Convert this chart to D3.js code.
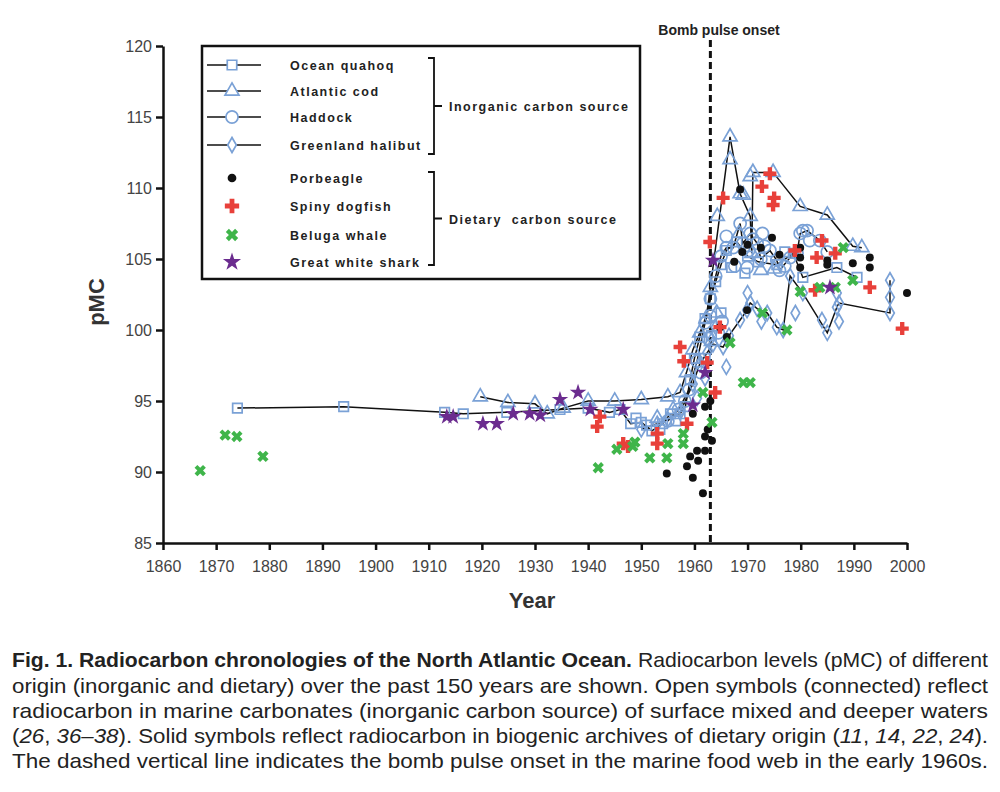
<!DOCTYPE html>
<html>
<head>
<meta charset="utf-8">
<script src="https://cdn.jsdelivr.net/npm/d3@7"></script>
<style>
  body { margin: 0; background: #fff; }
  svg text { font-family: "Liberation Sans", Arial, sans-serif; }
</style>
</head>
<body>
<svg id="chart" width="1000" height="792"></svg>
<script>
// ---- data (year, pMC) ----
const xTicks = [1860, 1870, 1880, 1890, 1900, 1910, 1920, 1930, 1940, 1950, 1960, 1970, 1980, 1990, 2000];
const yTicks = [85, 90, 95, 100, 105, 110, 115, 120];
const bombYear = 1963;

// open symbols, connected (inorganic carbon source)
const quahoqTrack = [[1874,94.5],[1894,94.6],[1913,94.2],[1916.5,94.1],[1924.7,94.2],[1934.7,94.4],[1940,94.5],[1944,94.2],[1946,94.4],[1948,93.4],[1950,93.5],[1952,92.9],[1954,93.4],[1955.5,94.1],[1957.3,94.1],[1958.3,94.6],[1959.2,96.5],[1960,98.0],[1961,99.5],[1962,100.8],[1963,102.2],[1964,103.4],[1965,104.6],[1966,105.6],[1968,106.2],[1970,105.2],[1972,104.8],[1975.5,104.6],[1978.6,105.4],[1980.4,103.7],[1986.8,104.4],[1990.6,103.7]];
const codTrack = [[1919.7,95.3],[1924.9,94.9],[1930,94.8],[1932.3,94.1],[1935.3,94.5],[1940,95.0],[1945,95.0],[1950,95.1],[1955,95.3],[1957.3,95.6],[1958.5,97.0],[1959.7,98.6],[1961,99.8],[1962.2,100.8],[1963,103.0],[1966.7,113.6],[1968.6,109.6],[1970.5,108.0],[1970.8,105.4],[1971,111.1],[1974.8,111.1],[1979.9,108.7],[1985,108.1],[1989.8,105.9],[1991.5,105.8]];
const haddockTrack = [[1955,93.6],[1957,94.4],[1959,95.8],[1960.5,97.8],[1962,100.5],[1963,102.2],[1964,103.8],[1965,105.2],[1966,105.8],[1967.3,105.8],[1968.6,107.5],[1969.1,106.1],[1970.5,106.8],[1971.8,106.1],[1972.5,105.0],[1974.2,105.6],[1975.5,104.9],[1976,104.2],[1978,105.1],[1979.3,105.4],[1979.9,106.8],[1981.2,107.0],[1983.6,106.3],[1985,105.5]];
const halibutTrack = [[1950,93.0],[1953,93.4],[1955,93.7],[1957.3,94.2],[1959.7,96.2],[1961,97.6],[1962.4,98.4],[1963.5,99.0],[1965.4,98.8],[1966.5,99.6],[1968.6,100.7],[1969.9,101.4],[1970.5,101.9],[1971.8,101.5],[1973.7,101.2],[1975.5,100.2],[1976.7,100.0],[1978,103.8],[1980.4,102.6],[1985,99.8],[1986.8,101.6],[1987.2,101.9],[1996.8,101.2],[1996.8,103.5]];

// further open symbols that sit off the drawn tracks
const quahoqExtra = [[1949,93.8],[1951,93.3],[1953.5,93.0],[1956.5,93.6],[1962,98.0],[1963.2,99.6],[1965,101.2],[1967,104.4],[1969.5,104.0],[1977,105.5]];
const codExtra = [[1966.7,112.0],[1964.3,108.0],[1970.5,110.8],[1969.2,109.5],[1968.4,106.8],[1963.2,99.2],[1964.2,101.2],[1972.5,104.2],[1975,104.3],[1956,94.4],[1953,93.8]];
const haddockExtra = [[1966,106.6],[1967.6,104.5],[1969.9,104.4],[1970.2,105.6],[1971,106.4],[1972.8,106.8],[1973.2,105.9],[1977,104.5],[1980.4,107.0],[1981.7,106.3],[1963,101.0],[1964.5,99.8],[1965.2,100.6],[1962.6,99.4],[1961.2,97.0],[1958.2,95.0]];
const halibutExtra = [[1964,100.2],[1966,97.4],[1962,96.6],[1986.8,102.6],[1987.2,100.6],[1996.8,102.3],[1979,101.2],[1972.6,100.6],[1984,100.7],[1970,102.6],[1960.5,95.2]];

// solid symbols (dietary carbon source)
const porbeagle = [[1954.8,89.9],[1958.6,90.4],[1959.2,91.1],[1959.7,89.6],[1960.5,91.5],[1960.7,90.8],[1961.6,88.5],[1962,92.5],[1962,91.5],[1962.5,93.0],[1959.7,94.1],[1962,94.6],[1963,95.0],[1963.3,92.2],[1964.8,100.2],[1966.1,99.5],[1969.9,101.4],[1968.6,109.9],[1970,106.0],[1972.5,105.8],[1974.6,106.5],[1976,105.3],[1979.9,105.8],[1979.9,105.1],[1979.9,104.4],[1985,104.9],[1985,104.6],[1989.8,104.7],[1993,105.1],[1993,104.4],[2000,102.6],[1967.5,104.8],[1969,105.5]];
const dogfish = [[1941.7,93.2],[1942.2,93.9],[1946.6,92.0],[1947.5,91.8],[1953,92.7],[1953,92.0],[1957.3,98.8],[1958,97.8],[1958.6,93.4],[1962.4,97.7],[1963.9,95.6],[1962.9,106.2],[1965.4,109.3],[1972.7,110.1],[1974.2,111.0],[1974.8,108.8],[1975,109.3],[1964.8,100.2],[1978.9,105.6],[1983,105.1],[1984,106.3],[1986.5,105.4],[1982.7,102.8],[1993,103.0],[1999.1,100.1]];
const beluga = [[1867,90.1],[1871.7,92.6],[1873.9,92.5],[1878.8,91.1],[1941.9,90.3],[1945.4,91.6],[1948.4,91.8],[1948.8,92.1],[1951.6,91.0],[1954.8,91.0],[1955,92.0],[1957.9,92.0],[1957.9,92.7],[1961.6,95.6],[1963.3,93.5],[1966.7,99.1],[1969.2,96.3],[1970.5,96.3],[1972.8,101.2],[1977.4,100.0],[1979.9,102.7],[1983.6,103.0],[1986.5,103.0],[1988,105.8],[1989.8,103.5]];
const whiteShark = [[1913.4,93.9],[1914.6,93.9],[1920.2,93.4],[1922.8,93.4],[1925.9,94.1],[1929,94.1],[1931,94.0],[1934.7,95.1],[1938.1,95.6],[1940.4,94.4],[1946.6,94.4],[1959.7,94.7],[1962,97.0],[1963.5,104.9],[1985.5,103.0]];

const inorganicNames = ["Ocean quahoq", "Atlantic cod", "Haddock", "Greenland halibut"];
const dietaryNames = ["Porbeagle", "Spiny dogfish", "Beluga whale", "Great white shark"];

const captionLines = [
  [["Fig. 1. Radiocarbon chronologies of the North Atlantic Ocean.", "b"], [" Radiocarbon levels (pMC) of different", ""]],
  [["origin (inorganic and dietary) over the past 150 years are shown. Open symbols (connected) reflect", ""]],
  [["radiocarbon in marine carbonates (inorganic carbon source) of surface mixed and deeper waters", ""]],
  [["(", ""], ["26", "i"], [", ", ""], ["36\u201338", "i"], ["). Solid symbols reflect radiocarbon in biogenic archives of dietary origin (", ""], ["11", "i"], [", ", ""], ["14", "i"], [", ", ""], ["22", "i"], [", ", ""], ["24", "i"], [").", ""]],
  [["The dashed vertical line indicates the bomb pulse onset in the marine food web in the early 1960s.", ""]]
];

// ---- chart ----
const svg = d3.select("#chart");
const x = d3.scaleLinear().domain([1860, 2000]).range([163, 907]);
const y = d3.scaleLinear().domain([85, 120]).range([543, 46]);

const blue = "#7aa1d6", red = "#e8403a", green = "#3fb54a", purple = "#6b2c8f";

const openStyles = [
  { track: quahoqTrack, extra: quahoqExtra, type: d3.symbolSquare, size: 90 },
  { track: codTrack, extra: codExtra, type: d3.symbolTriangle, size: 85 },
  { track: haddockTrack, extra: haddockExtra, type: d3.symbolCircle, size: 115 },
  { track: halibutTrack, extra: halibutExtra, type: d3.symbolDiamond, size: 65 }
];
const solidStyles = [
  { data: porbeagle, type: d3.symbolCircle, size: 50, color: "#111", rot: 0 },
  { data: dogfish, type: d3.symbolCross, size: 95, color: red, rot: 0 },
  { data: beluga, type: d3.symbolCross, size: 80, color: green, rot: 45 },
  { data: whiteShark, type: d3.symbolStar, size: 85, color: purple, rot: 0 }
];

// axes
const xAxis = svg.append("g")
  .attr("transform", "translate(0,543)")
  .call(d3.axisBottom(x).tickValues(xTicks).tickFormat(d3.format("d")).tickSize(7).tickSizeOuter(0).tickPadding(11));
const yAxis = svg.append("g")
  .attr("transform", "translate(163,0)")
  .call(d3.axisLeft(y).tickValues(yTicks).tickSize(7).tickSizeOuter(0).tickPadding(4));
[xAxis, yAxis].forEach(function(a) {
  a.select(".domain").attr("stroke", "#111").attr("stroke-width", 2.5);
  a.selectAll(".tick line").attr("stroke", "#111").attr("stroke-width", 2.5);
  a.selectAll(".tick text").attr("font-size", 16).attr("fill", "#444")
    .attr("font-family", "'Liberation Sans', Arial, sans-serif");
});

svg.append("text").attr("x", 532).attr("y", 608).attr("text-anchor", "middle")
  .attr("font-size", 22).attr("font-weight", "bold").attr("fill", "#333").text("Year");
svg.append("text").attr("transform", "translate(104,302) rotate(-90)").attr("text-anchor", "middle")
  .attr("font-size", 22).attr("font-weight", "bold").attr("fill", "#333").text("pMC");

// bomb pulse line
svg.append("line")
  .attr("x1", x(bombYear)).attr("x2", x(bombYear)).attr("y1", 40).attr("y2", 543)
  .attr("stroke", "#111").attr("stroke-width", 3).attr("stroke-dasharray", "7,4");
svg.append("text").attr("x", 719).attr("y", 35).attr("text-anchor", "middle")
  .attr("font-size", 14).attr("font-weight", "bold").attr("fill", "#222").text("Bomb pulse onset");

// connecting lines
const line = d3.line().x(d => x(d[0])).y(d => y(d[1]));
const plot = svg.append("g");
openStyles.forEach(function(s) {
  plot.append("path").datum(s.track).attr("d", line)
    .attr("fill", "none").attr("stroke", "#111").attr("stroke-width", 1.5);
});

// open symbols
openStyles.forEach(function(s) {
  plot.append("g").selectAll("path")
    .data(s.track.concat(s.extra))
    .join("path")
    .attr("transform", d => "translate(" + x(d[0]) + "," + y(d[1]) + ")")
    .attr("d", d3.symbol().type(s.type).size(s.size))
    .attr("fill", "none").attr("stroke", blue).attr("stroke-width", 1.7);
});

// solid symbols
solidStyles.forEach(function(s) {
  plot.append("g").selectAll("path")
    .data(s.data)
    .join("path")
    .attr("transform", d => "translate(" + x(d[0]) + "," + y(d[1]) + ") rotate(" + s.rot + ")")
    .attr("d", d3.symbol().type(s.type).size(s.size))
    .attr("fill", s.color);
});

// legend
const legend = svg.append("g");
legend.append("rect").attr("x", 202).attr("y", 46).attr("width", 438).attr("height", 233)
  .attr("fill", "#fff").attr("stroke", "#111").attr("stroke-width", 2.5);
const rowY = [65, 91, 117, 145, 178, 206, 235, 262];
openStyles.forEach(function(s, i) {
  legend.append("line").attr("x1", 207).attr("x2", 261).attr("y1", rowY[i]).attr("y2", rowY[i])
    .attr("stroke", "#111").attr("stroke-width", 1.5);
  legend.append("path").attr("transform", "translate(232," + rowY[i] + ")")
    .attr("d", d3.symbol().type(s.type).size(s.size)).attr("fill", "#fff")
    .attr("stroke", blue).attr("stroke-width", 1.7);
});
solidStyles.forEach(function(s, i) {
  legend.append("path").attr("transform", "translate(232," + rowY[i + 4] + ") rotate(" + s.rot + ")")
    .attr("d", d3.symbol().type(s.type).size(s.size * 1.2)).attr("fill", s.color);
});
inorganicNames.concat(dietaryNames).forEach(function(n, i) {
  legend.append("text").attr("x", 290).attr("y", rowY[i] + 5)
    .attr("font-size", 12.5).attr("font-weight", "bold").attr("letter-spacing", 1.5)
    .attr("fill", "#222").text(n);
});
function bracket(y0, y1, label) {
  const ym = (y0 + y1) / 2;
  legend.append("path")
    .attr("d", "M428," + y0 + "H434V" + y1 + "H428M434," + ym + "H442")
    .attr("fill", "none").attr("stroke", "#111").attr("stroke-width", 1.8);
  legend.append("text").attr("x", 449).attr("y", ym + 5)
    .attr("font-size", 12.5).attr("font-weight", "bold").attr("letter-spacing", 1.5)
    .attr("fill", "#222").attr("xml:space", "preserve").text(label);
}
bracket(58, 154, "Inorganic carbon source");
bracket(172, 265, "Dietary  carbon source");

// caption
const capBase = [667, 693, 718, 743, 768];
captionLines.forEach(function(parts, i) {
  const t = svg.append("text").attr("x", 12).attr("y", capBase[i])
    .attr("font-size", 21).attr("fill", "#222")
    .attr("font-family", "'Liberation Sans Narrow', 'DejaVu Sans Condensed', 'Liberation Sans', sans-serif")
    .attr("textLength", 976).attr("lengthAdjust", "spacingAndGlyphs")
    .attr("xml:space", "preserve");
  parts.forEach(function(p) {
    t.append("tspan").text(p[0])
      .attr("font-weight", p[1] === "b" ? "bold" : null)
      .attr("font-style", p[1] === "i" ? "italic" : null);
  });
});
</script>
</body>
</html>
